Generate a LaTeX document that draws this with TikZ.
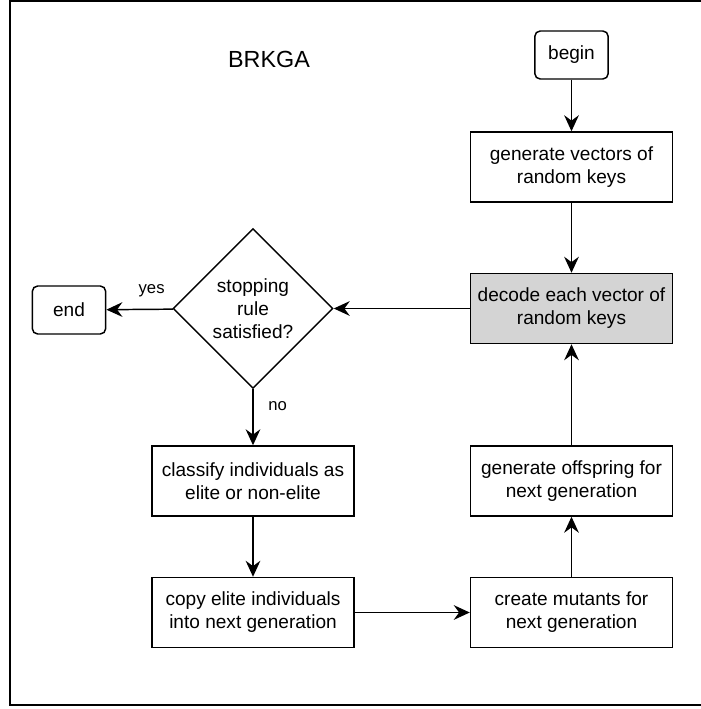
\documentclass[tikz,border=0pt]{standalone}
\usepackage{fontspec}
\setmainfont{Liberation Sans}
\usetikzlibrary{arrows.meta,positioning,shapes.geometric}

\begin{document}
\begin{tikzpicture}[
    x=0.75pt, y=-0.75pt,
    box/.style={rectangle, draw, line width=1.1pt, minimum width=151.5pt, minimum height=52.5pt, inner sep=0pt, font=\fontsize{14.3}{17.3}\selectfont, align=center},
    term/.style={rectangle, draw, line width=1.1pt, rounded corners=4pt, minimum width=55pt, minimum height=36pt, inner sep=0pt, font=\fontsize{14.3}{17.3}\selectfont},
    decision/.style={diamond, draw, line width=1.1pt, minimum width=120pt, minimum height=120pt, inner sep=0pt, font=\fontsize{14.3}{17.3}\selectfont, align=center},
    lbl/.style={font=\fontsize{12.5}{14}\selectfont, inner sep=0pt},
    arr/.style={-{Stealth[length=12pt, width=11pt, inset=4pt]}, line width=1.1pt}
]
    \useasboundingbox (0,0) rectangle (700,709);
    \draw[line width=1.2pt] (10,1) rectangle (712,705);

    \node[font=\fontsize{17.5}{20}\selectfont] (title) at (269,59) {BRKGA};

    \node[term] (begin) at (571.5,55) {begin};
    \node[box] (gen) at (571.5,167) {generate vectors of\\random keys};
    \node[box, fill=black!17] (decode) at (571.5,308.5) {decode each vector of\\random keys};
    \node[decision] (stop) at (253,308.5) {stopping\\rule\\satisfied?};
    \node[term] (finish) at (69,310) {end};
    \node[box] (classify) at (253,481) {classify individuals as\\elite or non-elite};
    \node[box] (copy) at (253,612.5) {copy elite individuals\\into next generation};
    \node[box] (mutants) at (571.5,612.5) {create mutants for\\next generation};
    \node[box] (offspring) at (571.5,481) {generate offspring for\\next generation};

    \draw[arr] (begin) -- (gen);
    \draw[arr] (gen) -- (decode);
    \draw[arr] (decode) -- (stop);
    \draw[arr] (stop) -- (finish) node[lbl, pos=0.32, above=9pt] {yes};
    \draw[arr] (stop) -- (classify) node[lbl, pos=0.3, right=11pt] {no};
    \draw[arr] (classify) -- (copy);
    \draw[arr] (copy) -- (mutants);
    \draw[arr] (mutants) -- (offspring);
    \draw[arr] (offspring) -- (decode);
\end{tikzpicture}
\end{document}
